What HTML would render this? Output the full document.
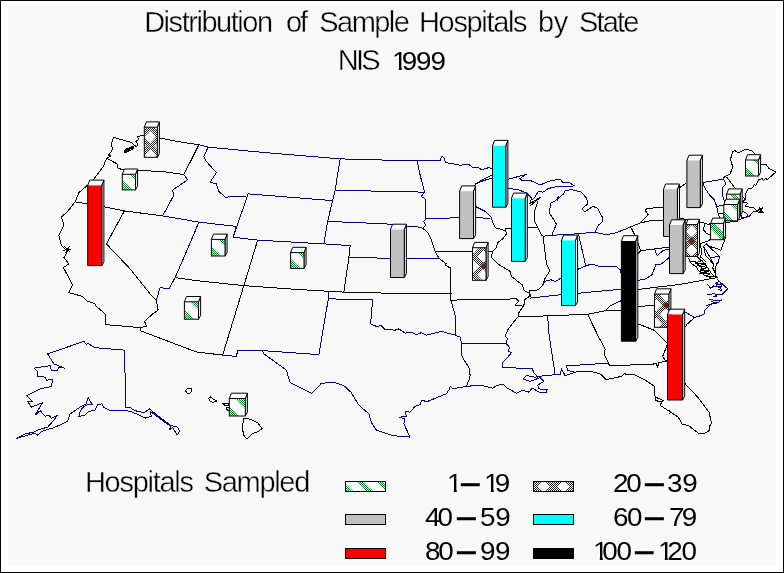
<!DOCTYPE html>
<html lang="en"><head><meta charset="utf-8"><title>Distribution of Sample Hospitals by State</title>
<style>
html,body{margin:0;padding:0;background:#f8f8f8;}
body{width:784px;height:573px;overflow:hidden;position:relative;font-family:"Liberation Sans",Arial,sans-serif;color:#000;}
#frame{position:absolute;left:0;top:0;width:782px;height:571px;border:1px solid #000;border-right-width:1px;}
svg{position:absolute;left:0;top:0;}
.t{position:absolute;white-space:pre;line-height:1;font-size:25.7px;-webkit-text-stroke:0.4px #f8f8f8;}
.one{display:inline-block;clip-path:polygon(0 0,0.35em 0,0.35em 100%,0.245em 100%,0.245em 0.765em,0 0.765em);margin-right:-0.17em;}
</style></head><body>

<svg width="784" height="573" viewBox="0 0 784 573">
<defs>
<pattern id="chk" width="2" height="2" patternUnits="userSpaceOnUse"><rect width="2" height="2" fill="#fff"/><rect width="1" height="1" fill="#222"/><rect x="1" y="1" width="1" height="1" fill="#222"/></pattern>
<pattern id="gchk" width="2" height="2" patternUnits="userSpaceOnUse"><rect width="2" height="2" fill="#fff"/><rect width="1" height="1" fill="#0a8a2a"/><rect x="1" y="1" width="1" height="1" fill="#0a8a2a"/></pattern>
</defs>
<rect x="0" y="0" width="784" height="573" fill="#fff"/><rect x="8" y="6" width="768" height="560" fill="#f8f8f8"/>
<g fill="none" stroke-width="1" stroke-linejoin="round" stroke-linecap="round" shape-rendering="crispEdges">
<polyline points="113.73,137.43 111.53,143.33 112.43,149.63 110.13,153.13 108.63,155.13 110.63,156.13 106.53,158.53 103.53,166.13 93.73,179.13 87.63,185.13" stroke="#000"/>
<polyline points="87.63,185.13 78.88,192.63 75.13,201.88 67.63,211.38 61.38,217.13 63.88,225.13 58.88,235.13 61.38,245.13 65.13,249.13 67.63,251.13 63.88,257.63 68.88,263.88 63.38,267.63 68.88,277.63 72.63,285.13 68.88,292.63 82.63,296.38 86.38,300.63 95.13,303.88 96.38,306.38 105.13,313.88 105.88,324.63" stroke="#000"/>
<polyline points="64.13,246.13 70.13,252.13" stroke="#000"/>
<polyline points="69.13,246.63 65.63,252.63" stroke="#000"/>
<polyline points="63.63,250.13 71.13,249.13" stroke="#000"/>
<polyline points="113.73,137.43 131.13,142.43 136.53,146.93 138.03,144.23 135.63,141.53 138.33,139.73 137.43,136.13 144.63,135.83 159.73,138.03 180.13,141.93 198.88,144.73" stroke="#000"/>
<polygon points="124.13,151.63 126.13,149.63 129.13,148.63 132.63,146.93 133.13,148.63 130.13,150.43 127.13,151.93 125.13,152.93" stroke="#000"/>
<polyline points="125.63,150.43 131.63,148.43" stroke="#000"/>
<polygon points="124.43,150.63 126.63,148.93 129.63,147.73 132.93,146.33 133.73,147.93 131.13,149.93 127.63,151.13 125.43,152.43" stroke="#000"/>
<polyline points="124.63,151.93 128.13,150.33 132.63,147.63" stroke="#000"/>
<polyline points="198.88,144.73 183.88,174.63" stroke="#000"/>
<polyline points="106.53,158.53 110.63,160.33 116.93,163.88 118.13,168.33 123.13,169.73 137.43,170.13 165.13,171.93 183.88,174.63" stroke="#000"/>
<polyline points="183.88,174.63 187.63,179.63 180.13,185.13 174.13,188.88 172.63,190.13 173.88,195.13 162.63,215.88" stroke="#00008b"/>
<polyline points="75.13,201.88 103.53,206.73 124.38,210.88 147.13,213.88 162.63,215.88" stroke="#000"/>
<polyline points="162.63,215.88 198.88,222.13 236.38,226.38" stroke="#00008b"/>
<polyline points="124.38,210.88 106.38,243.88 130.13,268.88 150.13,293.88 156.38,300.13" stroke="#000"/>
<polyline points="156.38,300.13 158.13,310.13 152.63,313.88 144.63,321.38 146.38,326.38 140.13,327.63" stroke="#000"/>
<polyline points="105.88,324.63 140.13,327.63" stroke="#000"/>
<polyline points="156.38,300.13 160.13,287.63 168.88,288.88 175.13,277.63" stroke="#00008b"/>
<polyline points="175.13,277.63 191.38,240.13 198.88,222.13" stroke="#00008b"/>
<polyline points="175.13,277.63 196.13,280.63 243.88,285.63 300.13,289.63 343.88,292.13 386.13,293.13 451.38,293.88" stroke="#000"/>
<polyline points="140.13,327.63 140.13,330.63 196.13,351.88 222.63,355.13" stroke="#000"/>
<polyline points="243.88,285.63 222.63,355.13" stroke="#000"/>
<polyline points="257.63,240.13 243.88,285.63" stroke="#000"/>
<polyline points="236.38,226.38 233.13,237.13 257.63,240.13" stroke="#00008b"/>
<polyline points="198.88,144.73 208.13,147.13 265.13,152.63 340.13,158.88 386.13,160.13 417.13,160.63 440.13,160.63" stroke="#00008b"/>
<polyline points="208.13,147.13 203.88,156.38 206.38,161.38 216.38,172.63 210.13,182.13 216.38,183.88 218.88,191.38 225.13,197.13 243.88,196.38 245.13,196.38" stroke="#00008b"/>
<polyline points="248.13,193.88 233.13,237.13" stroke="#00008b"/>
<polyline points="248.13,193.88 332.63,200.63" stroke="#00008b"/>
<polyline points="340.13,158.88 335.13,190.13 332.63,200.63 327.63,221.38 323.88,243.88" stroke="#00008b"/>
<polyline points="335.13,190.13 386.13,191.38 424.63,192.13" stroke="#00008b"/>
<polyline points="327.63,221.38 386.13,223.88 405.13,226.38 415.13,226.38 422.63,228.13" stroke="#00008b"/>
<polyline points="257.63,240.13 323.88,243.88 350.13,245.63" stroke="#00008b"/>
<polyline points="350.13,245.63 348.88,257.63 343.88,292.13" stroke="#000"/>
<polyline points="348.88,257.63 386.13,258.13 438.88,258.13" stroke="#00008b"/>
<polyline points="328.88,292.63 328.38,298.88 372.63,299.63 370.63,323.88" stroke="#00008b"/>
<polyline points="328.38,298.88 324.63,320.13 318.88,354.63" stroke="#00008b"/>
<polyline points="222.63,355.13 236.38,356.38 237.63,350.63 262.63,350.63 318.88,354.63" stroke="#00008b"/>
<polyline points="262.63,350.63 263.88,353.88 272.63,360.13 286.38,370.13 290.13,382.63 311.38,393.38 316.38,388.88 321.38,383.13 335.13,382.63 343.88,385.63 351.38,392.63 358.88,405.13 368.88,413.88 371.38,422.63 376.38,430.13 392.63,435.63 410.13,437.13" stroke="#00008b"/>
<polyline points="410.13,437.13 403.88,423.88 405.13,418.88 399.63,417.13 406.38,416.38 405.13,411.38 410.13,412.13 415.13,406.38 420.13,404.63 421.38,400.63 427.63,401.38 446.13,393.88 448.88,390.13 450.13,386.38 452.63,388.88 466.38,386.38" stroke="#00008b"/>
<polyline points="370.63,323.88 376.38,326.38 381.38,325.63 385.13,329.63 395.13,330.13 398.88,328.88 405.13,333.13 411.38,332.13 416.38,334.63 421.38,332.63 426.38,335.13 441.38,331.38 455.13,335.13 460.13,337.13 461.38,343.13" stroke="#00008b"/>
<polyline points="461.38,343.13 461.38,353.88 462.63,357.63 468.88,367.63 470.13,375.13 468.88,380.13 466.38,386.38" stroke="#00008b"/>
<polyline points="461.38,343.13 505.13,343.13" stroke="#00008b"/>
<polyline points="450.88,300.13 455.13,315.13 455.13,335.13" stroke="#00008b"/>
<polyline points="440.13,160.63 441.38,156.38 443.88,157.63 445.63,162.63 460.13,165.13 468.88,164.63 473.88,168.13 477.63,167.13 481.38,169.63 488.88,167.63 492.63,168.88" stroke="#00008b"/>
<polyline points="492.63,174.63 475.13,183.88" stroke="#00008b"/>
<polyline points="417.13,160.63 420.13,175.13 424.63,192.13 421.38,196.38 425.13,198.88 425.88,218.88" stroke="#00008b"/>
<polyline points="425.88,218.88 460.13,217.63 490.13,218.13" stroke="#00008b"/>
<polyline points="425.88,218.88 423.88,221.38 425.63,225.13 422.63,228.13" stroke="#00008b"/>
<polyline points="422.63,228.13 427.63,232.63 431.38,240.13 435.13,251.38" stroke="#000"/>
<polyline points="435.13,251.38 438.88,258.13 446.38,263.88 445.13,265.13 450.63,268.13 450.88,300.13" stroke="#000"/>
<polyline points="435.13,251.38 472.63,251.38 492.43,251.38" stroke="#000"/>
<polyline points="450.88,300.13 516.38,298.88 518.88,301.38 515.13,305.13 521.38,305.63" stroke="#000"/>
<polyline points="475.13,183.88 474.63,190.13 474.63,206.13 476.63,207.13 485.13,211.38 491.38,217.63 492.63,222.63" stroke="#00008b"/>
<polyline points="492.63,222.63 495.13,227.63 505.13,230.63" stroke="#000"/>
<polyline points="505.13,228.88 506.38,233.88 502.63,238.88 497.63,242.63 496.38,247.63 492.43,251.38 491.38,257.63 497.63,263.88 510.13,271.38 511.38,276.38 522.63,285.13 523.88,290.13 530.13,293.88" stroke="#000"/>
<polyline points="505.13,228.88 536.13,227.43" stroke="#000"/>
<polyline points="475.13,183.88 485.13,180.13 492.13,178.13" stroke="#000"/>
<polyline points="507.13,188.13 518.03,189.73 526.93,193.03 531.38,198.03 532.23,199.23" stroke="#00008b"/>
<polyline points="531.38,199.13 529.63,203.73 540.83,196.93 530.53,205.53" stroke="#000"/>
<polyline points="537.63,201.93 534.03,212.63 534.93,221.53 538.53,228.73 542.13,235.83" stroke="#000"/>
<polyline points="507.13,179.63 526.53,174.23 519.73,178.73 522.43,180.83 530.53,180.53 540.33,184.93 548.33,181.38 559.93,179.03 562.63,182.23 569.73,182.83 574.23,185.83 566.13,186.73 557.23,186.38 548.33,188.53 543.03,192.13 538.53,191.23 534.03,198.33 532.23,199.23" stroke="#00008b"/>
<polyline points="565.33,190.33 563.53,193.88 559.03,198.03 557.23,200.13 558.63,196.63 555.13,201.13 551.03,202.83 549.23,212.63 553.73,219.73 556.38,224.23 551.93,234.93" stroke="#00008b"/>
<polyline points="565.33,190.33 571.53,189.73 581.38,192.13 586.73,198.33 587.63,203.73 582.23,209.03 584.93,211.73 593.03,206.38 597.43,208.13 602.83,218.03 601.93,222.43 598.33,225.13 594.73,232.23" stroke="#00008b"/>
<polyline points="543.03,236.23 551.93,235.33 578.73,233.73 594.73,232.23" stroke="#00008b"/>
<polyline points="594.73,232.23 602.83,233.93 604.63,234.93 614.43,233.33 628.73,227.83 630.63,226.93" stroke="#00008b"/>
<polyline points="543.03,236.23 543.88,243.03 546.63,264.63 549.93,270.63 544.63,279.13 542.53,285.43 538.63,289.63 535.43,290.53 529.33,290.53 530.33,296.13 530.13,293.88" stroke="#000"/>
<polyline points="578.53,234.13 585.43,264.63" stroke="#00008b"/>
<polyline points="542.53,285.43 544.63,281.33 550.73,279.73 555.13,281.38 560.93,278.33 578.33,269.13 585.43,266.03 591.53,264.03 601.73,267.03 616.03,266.03 620.13,270.13 622.13,276.13 630.13,281.13 638.53,280.33" stroke="#00008b"/>
<polyline points="620.13,270.13 628.13,262.13 636.13,256.13 640.53,250.73" stroke="#00008b"/>
<polyline points="630.63,226.93 635.33,235.88 638.53,244.63 640.53,250.73" stroke="#000"/>
<polyline points="640.53,250.73 654.53,248.93 669.83,247.03" stroke="#000"/>
<polyline points="630.63,226.93 639.73,223.13 648.23,214.63 645.13,210.43 647.13,208.33 663.63,207.33" stroke="#000"/>
<polyline points="639.73,223.13 649.13,220.93 663.63,220.63" stroke="#000"/>
<polyline points="678.73,188.23 685.83,183.53" stroke="#000"/>
<polyline points="679.13,207.13 678.73,188.23" stroke="#000"/>
<polyline points="679.13,218.73 686.13,219.13 702.13,222.43 708.13,224.23" stroke="#000"/>
<polyline points="530.33,298.13 561.38,294.63 578.33,293.23 618.13,289.53 621.63,289.33" stroke="#00008b"/>
<polyline points="518.03,316.73 547.63,315.88 587.53,314.23 604.83,310.93 621.53,310.33" stroke="#000"/>
<polyline points="530.13,293.88 528.73,297.13 525.13,298.88 523.88,305.13 518.88,312.63 518.03,316.73" stroke="#000"/>
<polyline points="518.03,316.73 513.53,322.13 507.63,330.13 505.13,336.38 507.63,338.88 505.88,343.13 509.63,347.63 508.13,351.38 511.38,352.63 506.38,358.88 502.63,362.63 502.13,367.63" stroke="#00008b"/>
<polyline points="502.13,367.63 532.13,368.43 533.88,372.63 537.63,377.13" stroke="#00008b"/>
<polyline points="547.63,315.88 549.13,335.13 555.13,374.63" stroke="#00008b"/>
<polyline points="604.83,310.93 609.93,305.83 621.13,300.73" stroke="#00008b"/>
<polyline points="638.13,306.63 654.63,305.03" stroke="#00008b"/>
<polyline points="684.93,311.83 694.53,317.63" stroke="#00008b"/>
<polyline points="638.13,289.53 655.73,287.33 680.13,284.43 717.93,277.43" stroke="#000"/>
<polyline points="638.53,280.33 645.83,278.83 652.13,274.63 655.73,264.73 661.33,264.03 669.13,257.63" stroke="#00008b"/>
<polyline points="654.53,248.93 657.13,255.53 663.03,250.73 667.03,249.13 669.83,250.63" stroke="#00008b"/>
<polyline points="587.53,314.23 598.73,337.13 605.13,348.88 604.63,355.13 610.13,365.88" stroke="#000"/>
<polyline points="610.13,365.88 656.38,363.88 657.63,367.13 658.88,362.63 665.13,361.38 667.63,361.13" stroke="#000"/>
<polyline points="566.38,365.93 607.63,363.13 610.13,365.88" stroke="#00008b"/>
<polyline points="566.38,365.93 567.63,370.13 573.88,372.13" stroke="#00008b"/>
<polyline points="638.03,323.88 653.88,330.13 667.63,343.88" stroke="#000"/>
<polyline points="667.63,343.88 662.63,356.38 665.13,360.13 667.63,361.13" stroke="#000"/>
<polyline points="694.53,317.63 687.13,324.13 685.13,327.13" stroke="#000"/>
<polyline points="717.53,279.73 727.63,288.83 722.33,294.13 716.63,294.63" stroke="#00008b"/>
<polyline points="721.43,299.93 718.53,302.73 711.83,303.73 708.93,306.13 705.13,309.93 704.13,313.83 702.13,315.13 694.53,317.63" stroke="#00008b"/>
<polyline points="707.53,284.53 710.83,288.33 713.73,285.93 720.43,287.43 721.43,290.73 718.53,289.33" stroke="#00008b"/>
<polyline points="715.63,283.13 719.13,281.63 722.13,283.63 721.13,286.63 716.63,286.13 715.63,283.13 721.13,285.13 717.13,284.13 721.63,283.93" stroke="#00008b"/>
<polyline points="707.93,294.63 714.63,293.63 716.63,296.53 712.73,296.03" stroke="#00008b"/>
<polyline points="708.93,298.93 715.63,300.83 721.43,299.93 718.53,302.73 711.83,301.83" stroke="#00008b"/>
<polyline points="706.03,305.63 711.83,303.73" stroke="#00008b"/>
<polyline points="466.38,386.38 480.13,385.13 492.63,388.13 497.63,385.13 503.88,384.63 506.38,387.63 516.38,393.13 522.63,390.13 528.88,392.13 532.13,388.13 540.13,392.63 546.38,392.63 547.13,389.63 538.88,388.88 537.63,385.13 543.88,381.38 540.13,377.63 530.13,381.38 523.13,378.88 526.38,375.63 535.13,377.13 538.88,376.38 555.13,374.63 560.13,374.63 561.38,368.88 565.13,375.63 573.88,372.63" stroke="#00008b"/>
<polyline points="573.88,372.13 590.13,371.13 600.13,373.88 606.38,379.63 621.38,376.38 623.88,373.88 633.88,374.63 645.13,380.13 654.13,386.13 655.43,400.13 659.93,402.03 663.13,400.73 659.93,405.13 670.73,412.23 678.43,417.33 682.23,424.33 688.63,425.63 697.53,432.63 700.13,433.93 706.43,432.63 709.63,430.13 709.63,426.23 711.53,423.13 709.03,412.23 697.53,396.93 685.43,384.13 684.93,383.13" stroke="#000"/>
<polyline points="656.63,397.63 661.13,399.63" stroke="#000"/>
<polyline points="668.63,410.13 671.13,412.63 669.13,413.13" stroke="#000"/>
<polyline points="688.83,258.23 689.33,261.33 697.63,262.13 702.83,260.53 694.93,263.03 705.43,263.93 697.63,265.73 707.23,267.43 700.23,270.03 708.93,270.93 699.33,273.53 709.83,274.03 706.33,276.13 716.83,277.03" stroke="#000"/>
<polyline points="689.33,261.33 692.13,264.13 696.13,266.63 698.13,270.13 701.13,272.63 704.13,275.13 710.13,277.63" stroke="#000"/>
<polyline points="697.63,256.93 699.63,259.13 703.13,262.13 706.13,265.63 708.63,269.13 711.13,273.13 715.13,277.13" stroke="#000"/>
<polyline points="695.13,262.63 700.13,266.13 703.13,269.63 706.13,272.63" stroke="#000"/>
<polyline points="700.13,243.83 701.93,252.63 700.13,256.93 702.83,258.73 705.43,261.13" stroke="#000"/>
<polygon points="706.33,243.83 703.73,246.53 710.23,257.43 719.43,256.53" stroke="#00008b"/>
<polyline points="699.78,243.83 709.83,240.33 710.43,236.83" stroke="#000"/>
<polyline points="707.13,245.63 718.13,249.13 720.73,250.43 725.53,237.73" stroke="#000"/>
<polyline points="719.43,256.53 718.53,262.13 716.33,263.93 715.13,272.73 712.88,268.33 713.33,263.93 710.23,257.43" stroke="#000"/>
<polyline points="703.73,246.53 705.43,255.13 713.33,263.93" stroke="#000"/>
<polyline points="715.13,272.73 716.13,276.63 717.93,277.43" stroke="#000"/>
<polyline points="704.53,224.83 703.33,229.63 706.33,233.23 710.63,235.03" stroke="#000"/>
<polyline points="708.13,224.23 711.13,223.73" stroke="#000"/>
<polyline points="703.13,182.53 722.63,179.23" stroke="#00008b"/>
<polyline points="722.63,179.23 725.03,176.23" stroke="#000"/>
<polyline points="722.63,179.23 724.43,180.43 725.63,184.03 722.63,187.63 722.38,195.53 724.43,200.73 724.43,205.63" stroke="#00008b"/>
<polyline points="703.13,182.53 704.53,187.63 709.38,194.73 714.23,199.53 716.63,206.13" stroke="#00008b"/>
<polyline points="716.63,206.13 724.43,205.63" stroke="#00008b"/>
<polyline points="716.63,206.13 718.43,214.63 719.63,218.23" stroke="#000"/>
<polyline points="718.43,214.03 723.83,213.73" stroke="#000"/>
<polyline points="725.03,176.23 729.83,174.43 732.83,167.23 730.43,159.38 732.83,151.53 735.23,150.73 738.23,152.73 744.88,149.53 751.53,150.33 754.53,153.33 755.73,155.73 761.13,164.23 765.93,164.23 768.93,168.43 775.83,172.03 767.13,179.83 765.93,178.03 763.53,180.43 762.33,178.63 758.73,179.83 755.73,185.83 754.53,184.63 751.53,188.83 747.93,188.83 745.53,194.33 744.88,199.13" stroke="#000"/>
<polyline points="725.03,176.23 726.83,177.43 735.23,188.23 740.13,194.13 744.88,199.13" stroke="#000"/>
<polyline points="744.88,199.13 745.53,198.93 742.13,202.13 747.93,203.13 745.13,206.13 753.93,208.03 757.53,211.03 760.13,208.13 762.33,208.63 760.63,211.13 763.13,212.63 758.73,212.13 753.93,211.03 749.13,216.43" stroke="#000"/>
<polyline points="759.13,207.13 762.63,211.63" stroke="#000"/>
<polyline points="762.13,207.63 759.63,212.13" stroke="#000"/>
<polyline points="741.83,211.03 746.73,213.43 747.93,216.43 742.43,218.23 740.63,214.63" stroke="#00008b"/>
<polyline points="749.13,216.43 743.13,218.13 738.23,220.03" stroke="#00008b"/>
<polyline points="737.63,221.23 726.23,222.43" stroke="#000"/>
<polygon points="83.88,341.38 86.38,344.63 87.63,343.13 93.88,347.13 100.13,348.13 124.63,350.13 125.13,380.13 125.63,407.13 130.13,407.63 133.88,410.13 137.63,411.38 143.88,412.63 149.63,408.88 153.88,412.63 170.13,425.13 177.63,427.13 179.63,431.38 177.13,435.13 172.63,427.63 168.88,430.13 170.63,426.38 150.13,411.38 151.38,416.38 145.13,418.13 136.38,413.88 130.13,411.38 125.13,410.63 110.13,410.63 103.88,407.63 102.13,403.88 97.63,404.63 95.13,410.13 88.88,411.38 85.13,415.13 78.88,416.38 80.13,411.38 82.63,407.63 87.63,404.63 92.13,404.63 88.13,397.13 86.38,403.88 80.13,407.13 70.13,413.88 67.63,421.38 53.88,427.63 41.38,431.38 37.63,435.13 35.13,433.13 16.38,438.38 25.13,433.88 33.88,432.13 38.88,429.63 47.63,427.13 53.88,420.13 57.13,415.63 51.38,418.13 48.88,415.13 45.13,416.38 40.13,410.63 35.13,415.13 42.63,402.63 31.38,407.13 27.63,401.38 32.63,401.38 26.38,395.63 40.13,388.88 51.38,386.38 52.63,379.63 46.38,380.13 45.13,377.13 37.63,376.38 37.13,371.38 33.88,368.13 50.13,365.63 51.38,370.13 57.13,370.63 58.88,367.13 64.63,368.13 53.88,363.88 47.63,353.88" stroke="#00008b"/>
<polygon points="185.43,390.63 187.63,388.63 191.63,388.43 191.93,391.13 189.63,393.43 186.93,392.93" stroke="#000"/>
<polygon points="208.63,398.63 210.33,396.93 213.13,399.13 216.63,401.13 212.63,402.43 210.13,401.13" stroke="#000"/>
<polygon points="222.63,403.93 224.63,403.13 228.13,403.63 228.63,405.13 225.13,405.43" stroke="#000"/>
<polyline points="229.53,407.63 227.13,407.13 226.13,409.13 229.53,411.13" stroke="#000"/>
<polygon points="243.83,418.53 250.13,419.13 257.63,422.63 262.03,428.53 258.13,431.63 252.13,433.63 249.13,437.13 246.43,438.83 243.63,435.13 242.43,428.13 243.13,422.13" stroke="#000"/>
</g>
<g stroke-linejoin="miter">
<polygon points="157.3,127.2 159.4,121.9 159.4,153.59 157.3,157.3" fill="#ececec" stroke="#000" stroke-width="1"/>
<polygon points="144.3,127.2 146.4,121.9 159.4,121.9 157.3,127.2" fill="#fcfcfc" stroke="none"/>
<polyline points="144.3,127.2 146.4,121.9 159.4,121.9 157.3,127.2" fill="none" stroke="#000" stroke-width="1"/>
<clipPath id="c0"><rect x="144.3" y="127.2" width="13.0" height="30.10000000000001"/></clipPath>
<rect x="144.3" y="127.2" width="13.0" height="30.10000000000001" fill="#fff"/>
<g clip-path="url(#c0)">
<rect x="144.3" y="127.2" width="13.0" height="30.10000000000001" fill="url(#chk)"/>
<polygon points="134.64999999999998,127.45 140.45,121.35000000000001 146.25,127.45 140.45,133.55" fill="#fff"/>
<polygon points="134.64999999999998,146.15 140.45,140.05 146.25,146.15 140.45,152.25" fill="#fff"/>
<polygon points="154.35,127.45 160.15,121.35000000000001 165.95000000000002,127.45 160.15,133.55" fill="#fff"/>
<polygon points="144.5,136.8 150.3,130.70000000000002 156.10000000000002,136.8 150.3,142.9" fill="#fff"/>
<polygon points="154.35,146.15 160.15,140.05 165.95000000000002,146.15 160.15,152.25" fill="#fff"/>
<polygon points="144.5,155.5 150.3,149.4 156.10000000000002,155.5 150.3,161.6" fill="#fff"/>
</g>
<rect x="144.3" y="127.2" width="13.0" height="30.10000000000001" fill="none" stroke="#000" stroke-width="1"/>
<polygon points="135.5,174.3 137.6,169.0 137.6,186.19 135.5,189.9" fill="#ececec" stroke="#000" stroke-width="1"/>
<polygon points="122.3,174.3 124.39999999999999,169.0 137.6,169.0 135.5,174.3" fill="#fcfcfc" stroke="none"/>
<polyline points="122.3,174.3 124.39999999999999,169.0 137.6,169.0 135.5,174.3" fill="none" stroke="#000" stroke-width="1"/>
<clipPath id="c1"><rect x="122.3" y="174.3" width="13.200000000000003" height="15.599999999999994"/></clipPath>
<rect x="122.3" y="174.3" width="13.200000000000003" height="15.599999999999994" fill="#fff"/>
<g clip-path="url(#c1)">
<polygon points="105.20,172.3 114.70,172.3 134.30,191.9 124.80,191.9" fill="url(#gchk)"/>
<polygon points="127.70,172.3 137.70,172.3 157.30,191.9 147.30,191.9" fill="url(#gchk)"/>
</g>
<rect x="122.3" y="174.3" width="13.200000000000003" height="15.599999999999994" fill="none" stroke="#000" stroke-width="1"/>
<polygon points="101.8,185.4 103.89999999999999,180.1 103.89999999999999,261.89000000000004 101.8,265.6" fill="#ececec" stroke="#000" stroke-width="1"/>
<polygon points="87.7,185.4 89.8,180.1 103.89999999999999,180.1 101.8,185.4" fill="#fcfcfc" stroke="none"/>
<polyline points="87.7,185.4 89.8,180.1 103.89999999999999,180.1 101.8,185.4" fill="none" stroke="#000" stroke-width="1"/>
<rect x="87.7" y="185.4" width="14.099999999999994" height="80.20000000000002" fill="#ff0000" stroke="none"/>
<polyline points="87.7,184.9 87.7,265.6 101.8,265.6 101.8,184.9" fill="none" stroke="#000" stroke-width="1"/>
<polygon points="225.0,239.4 227.1,234.1 227.1,252.29 225.0,256" fill="#ececec" stroke="#000" stroke-width="1"/>
<polygon points="211.4,239.4 213.5,234.1 227.1,234.1 225.0,239.4" fill="#fcfcfc" stroke="none"/>
<polyline points="211.4,239.4 213.5,234.1 227.1,234.1 225.0,239.4" fill="none" stroke="#000" stroke-width="1"/>
<clipPath id="c3"><rect x="211.4" y="239.4" width="13.599999999999994" height="16.599999999999994"/></clipPath>
<rect x="211.4" y="239.4" width="13.599999999999994" height="16.599999999999994" fill="#fff"/>
<g clip-path="url(#c3)">
<polygon points="193.30,237.4 202.80,237.4 223.40,258 213.90,258" fill="url(#gchk)"/>
<polygon points="215.80,237.4 225.80,237.4 246.40,258 236.40,258" fill="url(#gchk)"/>
</g>
<rect x="211.4" y="239.4" width="13.599999999999994" height="16.599999999999994" fill="none" stroke="#000" stroke-width="1"/>
<polygon points="198.5,301.8 200.6,296.5 200.6,315.49 198.5,319.2" fill="#ececec" stroke="#000" stroke-width="1"/>
<polygon points="184.4,301.8 186.5,296.5 200.6,296.5 198.5,301.8" fill="#fcfcfc" stroke="none"/>
<polyline points="184.4,301.8 186.5,296.5 200.6,296.5 198.5,301.8" fill="none" stroke="#000" stroke-width="1"/>
<clipPath id="c4"><rect x="184.4" y="301.8" width="14.099999999999994" height="17.399999999999977"/></clipPath>
<rect x="184.4" y="301.8" width="14.099999999999994" height="17.399999999999977" fill="#fff"/>
<g clip-path="url(#c4)">
<polygon points="165.50,299.8 175.00,299.8 196.40,321.2 186.90,321.2" fill="url(#gchk)"/>
<polygon points="188.00,299.8 198.00,299.8 219.40,321.2 209.40,321.2" fill="url(#gchk)"/>
</g>
<rect x="184.4" y="301.8" width="14.099999999999994" height="17.399999999999977" fill="none" stroke="#000" stroke-width="1"/>
<polygon points="304,252.6 306.1,247.29999999999998 306.1,264.69 304,268.4" fill="#ececec" stroke="#000" stroke-width="1"/>
<polygon points="290.6,252.6 292.70000000000005,247.29999999999998 306.1,247.29999999999998 304,252.6" fill="#fcfcfc" stroke="none"/>
<polyline points="290.6,252.6 292.70000000000005,247.29999999999998 306.1,247.29999999999998 304,252.6" fill="none" stroke="#000" stroke-width="1"/>
<clipPath id="c5"><rect x="290.6" y="252.6" width="13.399999999999977" height="15.799999999999983"/></clipPath>
<rect x="290.6" y="252.6" width="13.399999999999977" height="15.799999999999983" fill="#fff"/>
<g clip-path="url(#c5)">
<polygon points="273.30,250.6 282.80,250.6 302.60,270.4 293.10,270.4" fill="url(#gchk)"/>
<polygon points="295.80,250.6 305.80,250.6 325.60,270.4 315.60,270.4" fill="url(#gchk)"/>
</g>
<rect x="290.6" y="252.6" width="13.399999999999977" height="15.799999999999983" fill="none" stroke="#000" stroke-width="1"/>
<polygon points="245.3,398.5 247.4,393.2 247.4,412.29 245.3,416" fill="#ececec" stroke="#000" stroke-width="1"/>
<polygon points="229.3,398.5 231.4,393.2 247.4,393.2 245.3,398.5" fill="#fcfcfc" stroke="none"/>
<polyline points="229.3,398.5 231.4,393.2 247.4,393.2 245.3,398.5" fill="none" stroke="#000" stroke-width="1"/>
<clipPath id="c6"><rect x="229.3" y="398.5" width="16.0" height="17.5"/></clipPath>
<rect x="229.3" y="398.5" width="16.0" height="17.5" fill="#fff"/>
<g clip-path="url(#c6)">
<polygon points="210.30,396.5 219.80,396.5 241.30,418 231.80,418" fill="url(#gchk)"/>
<polygon points="232.80,396.5 242.80,396.5 264.30,418 254.30,418" fill="url(#gchk)"/>
</g>
<rect x="229.3" y="398.5" width="16.0" height="17.5" fill="none" stroke="#000" stroke-width="1"/>
<polygon points="505.8,145.7 507.90000000000003,140.39999999999998 507.90000000000003,203.48999999999998 505.8,207.2" fill="#ececec" stroke="#000" stroke-width="1"/>
<polygon points="492.5,145.7 494.6,140.39999999999998 507.90000000000003,140.39999999999998 505.8,145.7" fill="#fcfcfc" stroke="none"/>
<polyline points="492.5,145.7 494.6,140.39999999999998 507.90000000000003,140.39999999999998 505.8,145.7" fill="none" stroke="#000" stroke-width="1"/>
<rect x="492.5" y="145.7" width="13.300000000000011" height="61.5" fill="#00ffff" stroke="none"/>
<polyline points="492.5,145.2 492.5,207.2 505.8,207.2 505.8,145.2" fill="none" stroke="#000" stroke-width="1"/>
<polygon points="473.5,191.2 475.6,185.89999999999998 475.6,234.89 473.5,238.6" fill="#ececec" stroke="#000" stroke-width="1"/>
<polygon points="459.6,191.2 461.70000000000005,185.89999999999998 475.6,185.89999999999998 473.5,191.2" fill="#fcfcfc" stroke="none"/>
<polyline points="459.6,191.2 461.70000000000005,185.89999999999998 475.6,185.89999999999998 473.5,191.2" fill="none" stroke="#000" stroke-width="1"/>
<rect x="459.6" y="191.2" width="13.899999999999977" height="47.400000000000006" fill="#c0c0c0" stroke="none"/>
<polyline points="459.6,190.7 459.6,238.6 473.5,238.6 473.5,190.7" fill="none" stroke="#000" stroke-width="1"/>
<polygon points="404.3,229.5 406.40000000000003,224.2 406.40000000000003,273.79 404.3,277.5" fill="#ececec" stroke="#000" stroke-width="1"/>
<polygon points="390.5,229.5 392.6,224.2 406.40000000000003,224.2 404.3,229.5" fill="#fcfcfc" stroke="none"/>
<polyline points="390.5,229.5 392.6,224.2 406.40000000000003,224.2 404.3,229.5" fill="none" stroke="#000" stroke-width="1"/>
<rect x="390.5" y="229.5" width="13.800000000000011" height="48.0" fill="#c0c0c0" stroke="none"/>
<polyline points="390.5,229.0 390.5,277.5 404.3,277.5 404.3,229.0" fill="none" stroke="#000" stroke-width="1"/>
<polygon points="525.2,198.4 527.3000000000001,193.1 527.3000000000001,257.69 525.2,261.4" fill="#ececec" stroke="#000" stroke-width="1"/>
<polygon points="511.5,198.4 513.6,193.1 527.3000000000001,193.1 525.2,198.4" fill="#fcfcfc" stroke="none"/>
<polyline points="511.5,198.4 513.6,193.1 527.3000000000001,193.1 525.2,198.4" fill="none" stroke="#000" stroke-width="1"/>
<rect x="511.5" y="198.4" width="13.700000000000045" height="62.99999999999997" fill="#00ffff" stroke="none"/>
<polyline points="511.5,197.9 511.5,261.4 525.2,261.4 525.2,197.9" fill="none" stroke="#000" stroke-width="1"/>
<polygon points="486,247.7 488.1,242.39999999999998 488.1,276.59000000000003 486,280.3" fill="#ececec" stroke="#000" stroke-width="1"/>
<polygon points="472.5,247.7 474.6,242.39999999999998 488.1,242.39999999999998 486,247.7" fill="#fcfcfc" stroke="none"/>
<polyline points="472.5,247.7 474.6,242.39999999999998 488.1,242.39999999999998 486,247.7" fill="none" stroke="#000" stroke-width="1"/>
<clipPath id="c11"><rect x="472.5" y="247.7" width="13.5" height="32.60000000000002"/></clipPath>
<rect x="472.5" y="247.7" width="13.5" height="32.60000000000002" fill="#fff"/>
<g clip-path="url(#c11)">
<rect x="472.5" y="247.7" width="13.5" height="32.60000000000002" fill="url(#chk)"/>
<polygon points="467.7,247.3 473.5,241.20000000000002 479.3,247.3 473.5,253.4" fill="#fff"/>
<polygon points="477.55,256.65 483.35,250.54999999999998 489.15000000000003,256.65 483.35,262.75" fill="#fff"/>
<polygon points="467.7,266.0 473.5,259.9 479.3,266.0 473.5,272.1" fill="#fff"/>
<polygon points="477.55,275.35 483.35,269.25 489.15000000000003,275.35 483.35,281.45000000000005" fill="#fff"/>
<polygon points="467.7,284.7 473.5,278.59999999999997 479.3,284.7 473.5,290.8" fill="#fff"/>
<polygon points="480.3,266 483.6,262.3 486.9,266 483.6,269.7" fill="#5c2a1c"/>
</g>
<rect x="472.5" y="247.7" width="13.5" height="32.60000000000002" fill="none" stroke="#000" stroke-width="1"/>
<polygon points="575.5,240.4 577.6,235.1 577.6,301.89000000000004 575.5,305.6" fill="#ececec" stroke="#000" stroke-width="1"/>
<polygon points="561.5,240.4 563.6,235.1 577.6,235.1 575.5,240.4" fill="#fcfcfc" stroke="none"/>
<polyline points="561.5,240.4 563.6,235.1 577.6,235.1 575.5,240.4" fill="none" stroke="#000" stroke-width="1"/>
<rect x="561.5" y="240.4" width="14.0" height="65.20000000000002" fill="#00ffff" stroke="none"/>
<polyline points="561.5,239.9 561.5,305.6 575.5,305.6 575.5,239.9" fill="none" stroke="#000" stroke-width="1"/>
<polygon points="758.5,160 760.6,154.7 760.6,172.29 758.5,176" fill="#ececec" stroke="#000" stroke-width="1"/>
<polygon points="745.5,160 747.6,154.7 760.6,154.7 758.5,160" fill="#fcfcfc" stroke="none"/>
<polyline points="745.5,160 747.6,154.7 760.6,154.7 758.5,160" fill="none" stroke="#000" stroke-width="1"/>
<clipPath id="c13"><rect x="745.5" y="160" width="13.0" height="16"/></clipPath>
<rect x="745.5" y="160" width="13.0" height="16" fill="#fff"/>
<g clip-path="url(#c13)">
<polygon points="728.00,158 737.50,158 757.50,178 748.00,178" fill="url(#gchk)"/>
<polygon points="750.50,158 760.50,158 780.50,178 770.50,178" fill="url(#gchk)"/>
</g>
<rect x="745.5" y="160" width="13.0" height="16" fill="none" stroke="#000" stroke-width="1"/>
<polygon points="700.3,160.5 702.4,155.2 702.4,203.89 700.3,207.6" fill="#ececec" stroke="#000" stroke-width="1"/>
<polygon points="686.9,160.5 689.0,155.2 702.4,155.2 700.3,160.5" fill="#fcfcfc" stroke="none"/>
<polyline points="686.9,160.5 689.0,155.2 702.4,155.2 700.3,160.5" fill="none" stroke="#000" stroke-width="1"/>
<rect x="686.9" y="160.5" width="13.399999999999977" height="47.099999999999994" fill="#c0c0c0" stroke="none"/>
<polyline points="686.9,160.0 686.9,207.6 700.3,207.6 700.3,160.0" fill="none" stroke="#000" stroke-width="1"/>
<polygon points="677.4,189.3 679.5,184.0 679.5,232.79 677.4,236.5" fill="#ececec" stroke="#000" stroke-width="1"/>
<polygon points="663.5,189.3 665.6,184.0 679.5,184.0 677.4,189.3" fill="#fcfcfc" stroke="none"/>
<polyline points="663.5,189.3 665.6,184.0 679.5,184.0 677.4,189.3" fill="none" stroke="#000" stroke-width="1"/>
<rect x="663.5" y="189.3" width="13.899999999999977" height="47.19999999999999" fill="#c0c0c0" stroke="none"/>
<polyline points="663.5,188.8 663.5,236.5 677.4,236.5 677.4,188.8" fill="none" stroke="#000" stroke-width="1"/>
<polygon points="740.1,194.2 742.2,188.89999999999998 742.2,212.29 740.1,216" fill="#ececec" stroke="#000" stroke-width="1"/>
<polygon points="726.6,194.2 728.7,188.89999999999998 742.2,188.89999999999998 740.1,194.2" fill="#fcfcfc" stroke="none"/>
<polyline points="726.6,194.2 728.7,188.89999999999998 742.2,188.89999999999998 740.1,194.2" fill="none" stroke="#000" stroke-width="1"/>
<clipPath id="c16"><rect x="726.6" y="194.2" width="13.5" height="21.80000000000001"/></clipPath>
<rect x="726.6" y="194.2" width="13.5" height="21.80000000000001" fill="#fff"/>
<g clip-path="url(#c16)">
<polygon points="727.30,192.2 733.30,192.2 759.10,218 753.10,218" fill="url(#gchk)"/>
</g>
<rect x="726.6" y="194.2" width="13.5" height="21.80000000000001" fill="none" stroke="#000" stroke-width="1"/>
<polygon points="737.6,204.5 739.7,199.2 739.7,217.09 737.6,220.8" fill="#ececec" stroke="#000" stroke-width="1"/>
<polygon points="723.8,204.5 725.9,199.2 739.7,199.2 737.6,204.5" fill="#fcfcfc" stroke="none"/>
<polyline points="723.8,204.5 725.9,199.2 739.7,199.2 737.6,204.5" fill="none" stroke="#000" stroke-width="1"/>
<clipPath id="c17"><rect x="723.8" y="204.5" width="13.800000000000068" height="16.30000000000001"/></clipPath>
<rect x="723.8" y="204.5" width="13.800000000000068" height="16.30000000000001" fill="#fff"/>
<g clip-path="url(#c17)">
<polygon points="706.00,202.5 715.50,202.5 735.80,222.8 726.30,222.8" fill="url(#gchk)"/>
<polygon points="728.50,202.5 738.50,202.5 758.80,222.8 748.80,222.8" fill="url(#gchk)"/>
</g>
<rect x="723.8" y="204.5" width="13.800000000000068" height="16.30000000000001" fill="none" stroke="#000" stroke-width="1"/>
<polygon points="723.4,223.4 725.5,218.1 725.5,235.98999999999998 723.4,239.7" fill="#ececec" stroke="#000" stroke-width="1"/>
<polygon points="710.6,223.4 712.7,218.1 725.5,218.1 723.4,223.4" fill="#fcfcfc" stroke="none"/>
<polyline points="710.6,223.4 712.7,218.1 725.5,218.1 723.4,223.4" fill="none" stroke="#000" stroke-width="1"/>
<clipPath id="c18"><rect x="710.6" y="223.4" width="12.799999999999955" height="16.299999999999983"/></clipPath>
<rect x="710.6" y="223.4" width="12.799999999999955" height="16.299999999999983" fill="#fff"/>
<g clip-path="url(#c18)">
<polygon points="703.30,221.4 712.30,221.4 732.60,241.7 723.60,241.7" fill="url(#gchk)"/>
</g>
<rect x="710.6" y="223.4" width="12.799999999999955" height="16.299999999999983" fill="none" stroke="#000" stroke-width="1"/>
<polygon points="697.4,224.6 699.5,219.29999999999998 699.5,252.68999999999997 697.4,256.4" fill="#ececec" stroke="#000" stroke-width="1"/>
<polygon points="685.9,224.6 688.0,219.29999999999998 699.5,219.29999999999998 697.4,224.6" fill="#fcfcfc" stroke="none"/>
<polyline points="685.9,224.6 688.0,219.29999999999998 699.5,219.29999999999998 697.4,224.6" fill="none" stroke="#000" stroke-width="1"/>
<clipPath id="c19"><rect x="685.9" y="224.6" width="11.5" height="31.799999999999983"/></clipPath>
<rect x="685.9" y="224.6" width="11.5" height="31.799999999999983" fill="#fff"/>
<g clip-path="url(#c19)">
<rect x="685.9" y="224.6" width="11.5" height="31.799999999999983" fill="url(#chk)"/>
<polygon points="675.95,222.05 681.75,215.95000000000002 687.55,222.05 681.75,228.15" fill="#fff"/>
<polygon points="675.95,240.75 681.75,234.65 687.55,240.75 681.75,246.85" fill="#fff"/>
<polygon points="675.95,259.45 681.75,253.35 687.55,259.45 681.75,265.55" fill="#fff"/>
<polygon points="695.6500000000001,222.05 701.45,215.95000000000002 707.25,222.05 701.45,228.15" fill="#fff"/>
<polygon points="685.8000000000001,231.4 691.6,225.3 697.4,231.4 691.6,237.5" fill="#fff"/>
<polygon points="695.6500000000001,240.75 701.45,234.65 707.25,240.75 701.45,246.85" fill="#fff"/>
<polygon points="685.8000000000001,250.1 691.6,244.0 697.4,250.1 691.6,256.2" fill="#fff"/>
<polygon points="695.6500000000001,259.45 701.45,253.35 707.25,259.45 701.45,265.55" fill="#fff"/>
<polygon points="687.7,240.8 691.6,236.5 695.5,240.8 691.6,245.1" fill="#5c2a1c"/>
</g>
<rect x="685.9" y="224.6" width="11.5" height="31.799999999999983" fill="none" stroke="#000" stroke-width="1"/>
<polygon points="683.1,225.1 685.2,219.79999999999998 685.2,269.89000000000004 683.1,273.6" fill="#ececec" stroke="#000" stroke-width="1"/>
<polygon points="669.5,225.1 671.6,219.79999999999998 685.2,219.79999999999998 683.1,225.1" fill="#fcfcfc" stroke="none"/>
<polyline points="669.5,225.1 671.6,219.79999999999998 685.2,219.79999999999998 683.1,225.1" fill="none" stroke="#000" stroke-width="1"/>
<rect x="669.5" y="225.1" width="13.600000000000023" height="48.50000000000003" fill="#c0c0c0" stroke="none"/>
<polyline points="669.5,224.6 669.5,273.6 683.1,273.6 683.1,224.6" fill="none" stroke="#000" stroke-width="1"/>
<polygon points="635.7,241 637.8000000000001,235.7 637.8000000000001,337.49 635.7,341.2" fill="#ececec" stroke="#000" stroke-width="1"/>
<polygon points="621.4,241 623.5,235.7 637.8000000000001,235.7 635.7,241" fill="#fcfcfc" stroke="none"/>
<polyline points="621.4,241 623.5,235.7 637.8000000000001,235.7 635.7,241" fill="none" stroke="#000" stroke-width="1"/>
<rect x="621.4" y="241" width="14.300000000000068" height="100.19999999999999" fill="#000000" stroke="none"/>
<polyline points="621.4,240.5 621.4,341.2 635.7,341.2 635.7,240.5" fill="none" stroke="#000" stroke-width="1"/>
<polygon points="668.8,294.1 670.9,288.8 670.9,323.59000000000003 668.8,327.3" fill="#ececec" stroke="#000" stroke-width="1"/>
<polygon points="654.5,294.1 656.6,288.8 670.9,288.8 668.8,294.1" fill="#fcfcfc" stroke="none"/>
<polyline points="654.5,294.1 656.6,288.8 670.9,288.8 668.8,294.1" fill="none" stroke="#000" stroke-width="1"/>
<clipPath id="c22"><rect x="654.5" y="294.1" width="14.299999999999955" height="33.19999999999999"/></clipPath>
<rect x="654.5" y="294.1" width="14.299999999999955" height="33.19999999999999" fill="#fff"/>
<g clip-path="url(#c22)">
<rect x="654.5" y="294.1" width="14.299999999999955" height="33.19999999999999" fill="url(#chk)"/>
<polygon points="660.2,295.85 666.0,289.75 671.8,295.85 666.0,301.95000000000005" fill="#fff"/>
<polygon points="650.35,305.2 656.15,299.09999999999997 661.9499999999999,305.2 656.15,311.3" fill="#fff"/>
<polygon points="660.2,314.55 666.0,308.45 671.8,314.55 666.0,320.65000000000003" fill="#fff"/>
<polygon points="650.35,323.9 656.15,317.79999999999995 661.9499999999999,323.9 656.15,330.0" fill="#fff"/>
<polygon points="660.2,333.25 666.0,327.15 671.8,333.25 666.0,339.35" fill="#fff"/>
<polygon points="662.5,305.3 666,301.5 669.5,305.3 666,309.1" fill="#5c2a1c"/>
</g>
<rect x="654.5" y="294.1" width="14.299999999999955" height="33.19999999999999" fill="none" stroke="#000" stroke-width="1"/>
<polygon points="682.6,314.5 684.7,309.2 684.7,396.29 682.6,400" fill="#ececec" stroke="#000" stroke-width="1"/>
<polygon points="667.5,314.5 669.6,309.2 684.7,309.2 682.6,314.5" fill="#fcfcfc" stroke="none"/>
<polyline points="667.5,314.5 669.6,309.2 684.7,309.2 682.6,314.5" fill="none" stroke="#000" stroke-width="1"/>
<rect x="667.5" y="314.5" width="15.100000000000023" height="85.5" fill="#ff0000" stroke="none"/>
<polyline points="667.5,314.0 667.5,400 682.6,400 682.6,314.0" fill="none" stroke="#000" stroke-width="1"/>
</g>
<clipPath id="sa"><rect x="345.5" y="481.5" width="40" height="10"/></clipPath>
<rect x="345.5" y="481.5" width="40" height="10" fill="#fff"/>
<g clip-path="url(#sa)">
<polygon points="334.80,479.5 341.50,479.5 355.50,493.5 348.80,493.5" fill="url(#gchk)"/>
<polygon points="354.70,479.5 361.40,479.5 375.40,493.5 368.70,493.5" fill="url(#gchk)"/>
<polygon points="374.50,479.5 381.20,479.5 395.20,493.5 388.50,493.5" fill="url(#gchk)"/>
</g>
<rect x="345.5" y="481.5" width="40" height="10" fill="none" stroke="#000" stroke-width="1"/>
<rect x="345.5" y="514.5" width="40" height="10" fill="#c0c0c0" stroke="#000" stroke-width="1"/>
<rect x="345.5" y="548.5" width="40" height="10" fill="#ff0000" stroke="#000" stroke-width="1"/>
<clipPath id="sd"><rect x="533.5" y="481.5" width="40" height="10"/></clipPath>
<rect x="533.5" y="481.5" width="40" height="10" fill="#fff"/>
<g clip-path="url(#sd)">
<rect x="533.5" y="481.5" width="40" height="10" fill="url(#chk)"/>
<polygon points="538.0,486.5 542.5,482.0 545.5,482.0 550.0,486.5 545.5,491.0 542.5,491.0" fill="#fff"/>
<polygon points="557.5,486.5 562.0,482.0 565.0,482.0 569.5,486.5 565.0,491.0 562.0,491.0" fill="#fff"/>
</g>
<rect x="533.5" y="481.5" width="40" height="10" fill="none" stroke="#000" stroke-width="1"/>
<rect x="533.5" y="514.5" width="40" height="10" fill="#00ffff" stroke="#000" stroke-width="1"/>
<rect x="533.5" y="548.5" width="40" height="10" fill="#000000" stroke="#000" stroke-width="1"/>
</svg>
<div class="t" style="left:144.13px;top:8.45px;font-size:29.0px;letter-spacing:-1.46px;">Distribution</div>
<div class="t" style="left:286.08px;top:8.45px;font-size:29.0px;letter-spacing:-2.16px;">of</div>
<div class="t" style="left:319.32px;top:8.45px;font-size:29.0px;letter-spacing:-1.56px;">Sample</div>
<div class="t" style="left:419.03px;top:8.45px;font-size:29.0px;letter-spacing:-1.34px;">Hospitals</div>
<div class="t" style="left:538.06px;top:8.45px;font-size:29.0px;letter-spacing:-0.37px;">by</div>
<div class="t" style="left:579.12px;top:8.45px;font-size:29.0px;letter-spacing:-1.86px;">State</div>
<div class="t" style="left:337.63px;top:46.45px;font-size:29.0px;letter-spacing:-2.69px;">NIS</div>
<div class="t" style="left:392.32px;top:47.89px;font-size:26.0px;letter-spacing:-1.03px;transform-origin:0 50%;transform:scaleX(1.07);-webkit-text-stroke:0;"><span class="one">1</span>999</div>
<div class="t" style="left:84.98px;top:468.45px;font-size:29.0px;letter-spacing:-1.29px;">Hospitals</div>
<div class="t" style="left:203.72px;top:468.45px;font-size:29.0px;letter-spacing:-1.32px;">Sampled</div>
<div>
<div class="t" style="left:447.02px;top:469.69px;font-size:26.0px;letter-spacing:0.0px;transform-origin:0 50%;transform:scaleX(1.07);-webkit-text-stroke:0;"><span class="one">1</span></div>
<div class="t" style="left:461.10px;top:469.89px;font-size:26.0px;letter-spacing:0px;transform-origin:0 50%;transform:scaleX(0.715);-webkit-text-stroke:0.5px #000;font-weight:700;">—</div>
<div class="t" style="left:484.32px;top:469.69px;font-size:26.0px;letter-spacing:-0.05px;transform-origin:0 50%;transform:scaleX(1.07);-webkit-text-stroke:0;"><span class="one">1</span>9</div>
</div>
<div>
<div class="t" style="left:613.38px;top:469.69px;font-size:26.0px;letter-spacing:-2.13px;transform-origin:0 50%;transform:scaleX(1.07);-webkit-text-stroke:0;">20</div>
<div class="t" style="left:644.90px;top:469.89px;font-size:26.0px;letter-spacing:0px;transform-origin:0 50%;transform:scaleX(0.723);-webkit-text-stroke:0.5px #000;font-weight:700;">—</div>
<div class="t" style="left:666.64px;top:469.69px;font-size:26.0px;letter-spacing:-0.26px;transform-origin:0 50%;transform:scaleX(1.07);-webkit-text-stroke:0;">39</div>
</div>
<div>
<div class="t" style="left:425.46px;top:503.69px;font-size:26.0px;letter-spacing:-2.68px;transform-origin:0 50%;transform:scaleX(1.07);-webkit-text-stroke:0;">40</div>
<div class="t" style="left:457.20px;top:503.89px;font-size:26.0px;letter-spacing:0px;transform-origin:0 50%;transform:scaleX(0.723);-webkit-text-stroke:0.5px #000;font-weight:700;">—</div>
<div class="t" style="left:479.75px;top:503.69px;font-size:26.0px;letter-spacing:-0.31px;transform-origin:0 50%;transform:scaleX(1.07);-webkit-text-stroke:0;">59</div>
</div>
<div>
<div class="t" style="left:612.74px;top:503.69px;font-size:26.0px;letter-spacing:-1.29px;transform-origin:0 50%;transform:scaleX(1.07);-webkit-text-stroke:0;">60</div>
<div class="t" style="left:644.90px;top:503.89px;font-size:26.0px;letter-spacing:0px;transform-origin:0 50%;transform:scaleX(0.723);-webkit-text-stroke:0.5px #000;font-weight:700;">—</div>
<div class="t" style="left:668.97px;top:503.69px;font-size:26.0px;letter-spacing:-2.43px;transform-origin:0 50%;transform:scaleX(1.07);-webkit-text-stroke:0;">79</div>
</div>
<div>
<div class="t" style="left:424.83px;top:537.59px;font-size:26.0px;letter-spacing:-2.06px;transform-origin:0 50%;transform:scaleX(1.07);-webkit-text-stroke:0;">80</div>
<div class="t" style="left:457.20px;top:537.79px;font-size:26.0px;letter-spacing:0px;transform-origin:0 50%;transform:scaleX(0.723);-webkit-text-stroke:0.5px #000;font-weight:700;">—</div>
<div class="t" style="left:479.82px;top:537.59px;font-size:26.0px;letter-spacing:-0.35px;transform-origin:0 50%;transform:scaleX(1.07);-webkit-text-stroke:0;">99</div>
</div>
<div>
<div class="t" style="left:593.42px;top:537.59px;font-size:26.0px;letter-spacing:-1.31px;transform-origin:0 50%;transform:scaleX(1.07);-webkit-text-stroke:0;"><span class="one">1</span>00</div>
<div class="t" style="left:635.30px;top:537.79px;font-size:26.0px;letter-spacing:0px;transform-origin:0 50%;transform:scaleX(0.708);-webkit-text-stroke:0.5px #000;font-weight:700;">—</div>
<div class="t" style="left:657.62px;top:537.59px;font-size:26.0px;letter-spacing:-1.33px;transform-origin:0 50%;transform:scaleX(1.07);-webkit-text-stroke:0;"><span class="one">1</span>20</div>
</div>
<div id="frame"></div>
</body></html>
